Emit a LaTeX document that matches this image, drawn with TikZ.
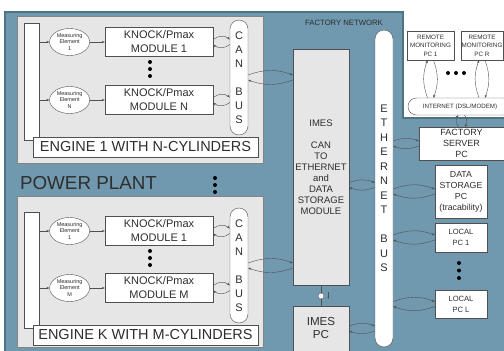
\documentclass[tikz,border=0pt]{standalone}
\usepackage{fontspec}
\setmainfont{Liberation Sans}
\usepackage{xcolor}
\usepackage{tikz}
\usetikzlibrary{positioning, arrows.meta, shapes.geometric, calc}

\definecolor{netblue}{HTML}{7098AE}
\definecolor{netedge}{HTML}{4E7384}
\definecolor{panelgray}{HTML}{E6E6E6}
\definecolor{boxline}{HTML}{505050}
\definecolor{inkgray}{HTML}{2E2E2E}

\begin{document}
\begin{tikzpicture}[
    x=1pt, y=-1pt,
    every node/.style={text=inkgray},
    engine/.style={draw=boxline!70, fill=panelgray, minimum width=246pt, inner sep=0pt},
    whitebox/.style={draw=boxline, fill=white, inner sep=0pt},
    sensor/.style={ellipse, draw=boxline, fill=white, minimum width=40pt, minimum height=27pt, inner sep=0pt, align=center, font=\fontsize{5.5}{6.5}\selectfont},
    module/.style={whitebox, minimum width=108pt, minimum height=29pt, align=center, font=\fontsize{11}{14}\selectfont},
    bus/.style={whitebox, rounded corners=9pt, minimum width=18pt, align=center},
    pcbox/.style={whitebox, align=center},
    arrow/.style={-{Stealth[length=3pt]}, thin, draw=boxline},
    link/.style={-{Stealth[length=3pt]}, thin, draw=boxline}
]

\useasboundingbox (0,0) rectangle (504,351);

% factory network
\fill[netblue] (5,12) -- (403,12) -- (403,118) -- (504,118) -- (504,351) -- (5,351) -- cycle;
\draw[netedge, line width=1.2pt] (504,118) -- (403,118) -- (403,12) -- (5,12) -- (5,351);
\node[font=\fontsize{7.7}{9}\selectfont] (fnet) at (344,23) {FACTORY NETWORK};

% engine 1
\node[engine, minimum height=147pt] (eng1) at (140,89.5) {};
\node[whitebox, minimum width=15pt, minimum height=117pt] (bar1) at (31.5,81.5) {};
\node[whitebox, minimum width=225pt, minimum height=20pt, font=\fontsize{14.5}{16}\selectfont] (lab1) at (145.5,147) {ENGINE 1 WITH N-CYLINDERS};
\node[module] (mod11) at (159,42) {KNOCK/Pmax\\MODULE 1};
\node[module] (mod1n) at (159,100) {KNOCK/Pmax\\MODULE N};
\node[sensor, left=15pt of mod11] (sen11) {Measuring\\Element\\1};
\node[sensor, left=15pt of mod1n] (sen1n) {Measuring\\Element\\N};
\node[bus, minimum height=115pt, font=\fontsize{11}{14}\selectfont] (can1) at (239,77.5) {C\\A\\N\\[14pt]B\\U\\S};
\fill[black] (150,62) circle (2) (150,69) circle (2) (150,76) circle (2);

\draw[arrow] (bar1.east |- sen11.west) -- (sen11.west);
\draw[arrow] (bar1.east |- sen1n.west) -- (sen1n.west);
\draw[arrow] (sen11) -- (mod11);
\draw[arrow] (sen1n) -- (mod1n);
\draw[link] ([yshift=2.5pt]mod11.east) to[bend left=40] ([yshift=2.5pt]mod11.east -| can1.west);
\draw[link] ([yshift=-2.5pt]mod11.east -| can1.west) to[bend left=40] ([yshift=-2.5pt]mod11.east);
\draw[link] ([yshift=2.5pt]mod1n.east) to[bend left=40] ([yshift=2.5pt]mod1n.east -| can1.west);
\draw[link] ([yshift=-2.5pt]mod1n.east -| can1.west) to[bend left=40] ([yshift=-2.5pt]mod1n.east);

% power plant
\node[font=\fontsize{18.8}{20}\selectfont] (plant) at (88.5,183) {POWER PLANT};
\fill[black] (215,178) circle (2) (215,185) circle (2) (215,192) circle (2);

% engine K
\node[engine, minimum height=151pt] (engk) at (140,271.5) {};
\node[whitebox, minimum width=15pt, minimum height=116pt] (bark) at (31.5,270) {};
\node[whitebox, minimum width=225pt, minimum height=20pt, font=\fontsize{14.5}{16}\selectfont] (labk) at (145.5,335) {ENGINE K WITH M-CYLINDERS};
\node[module] (modk1) at (159,231) {KNOCK/Pmax\\MODULE 1};
\node[module] (modkm) at (159,288) {KNOCK/Pmax\\MODULE M};
\node[sensor, left=15pt of modk1] (senk1) {Measuring\\Element\\1};
\node[sensor, left=15pt of modkm] (senkm) {Measuring\\Element\\M};
\node[bus, minimum height=115pt, font=\fontsize{11}{14}\selectfont] (cank) at (239,265.5) {C\\A\\N\\[14pt]B\\U\\S};
\fill[black] (150,251) circle (2) (150,258) circle (2) (150,265) circle (2);

\draw[arrow] (bark.east |- senk1.west) -- (senk1.west);
\draw[arrow] (bark.east |- senkm.west) -- (senkm.west);
\draw[arrow] (senk1) -- (modk1);
\draw[arrow] (senkm) -- (modkm);
\draw[link] ([yshift=2.5pt]modk1.east) to[bend left=40] ([yshift=2.5pt]modk1.east -| cank.west);
\draw[link] ([yshift=-2.5pt]modk1.east -| cank.west) to[bend left=40] ([yshift=-2.5pt]modk1.east);
\draw[link] ([yshift=2.5pt]modkm.east) to[bend left=40] ([yshift=2.5pt]modkm.east -| cank.west);
\draw[link] ([yshift=-2.5pt]modkm.east -| cank.west) to[bend left=40] ([yshift=-2.5pt]modkm.east);

% imes
\node[whitebox, fill=panelgray, minimum width=56pt, minimum height=236pt, align=center, font=\fontsize{9.5}{11}\selectfont] (imes) at (321,167)
    {IMES\\[11pt]CAN\\TO\\ETHERNET\\and\\DATA\\STORAGE\\MODULE};
\node[whitebox, fill=panelgray, minimum width=56pt, minimum height=45pt, align=center, font=\fontsize{11.6}{13}\selectfont] (imespc) at (321,328.5) {IMES\\PC};
\node[circle, draw=boxline, fill=white, minimum size=6pt, inner sep=0pt] (plug) at (321,296) {};
\draw[boxline] (imes.south) -- (plug.north);
\draw[boxline] (plug.south) -- (imespc.north);
\draw[-{Stealth[length=2pt]}, boxline, very thin] ($(plug.east)+(4,-4)$) -- ($(plug.east)+(4,3)$);

\draw[link] ([yshift=2.5pt]can1.east) to[bend left=20] ([yshift=2.5pt]can1.east -| imes.west);
\draw[link] ([yshift=-2.5pt]can1.east -| imes.west) to[bend left=20] ([yshift=-2.5pt]can1.east);
\draw[link] ([yshift=2.5pt]cank.east) to[bend left=20] ([yshift=2.5pt]cank.east -| imes.west);
\draw[link] ([yshift=-2.5pt]cank.east -| imes.west) to[bend left=20] ([yshift=-2.5pt]cank.east);

% ethernet bus
\node[bus, minimum height=317pt, font=\fontsize{11}{14.5}\selectfont] (eth) at (384,188.5) {E\\T\\H\\E\\R\\N\\E\\T\\[14.5pt]B\\U\\S};

% remote side
\node[pcbox, minimum width=47pt, minimum height=29pt, font=\fontsize{6.3}{8.5}\selectfont] (rpc1) at (430.5,45.5) {REMOTE\\MONITORING\\PC 1};
\node[pcbox, minimum width=42pt, minimum height=29pt, font=\fontsize{6.3}{8.5}\selectfont] (rpcr) at (482,45.5) {REMOTE\\MONITORING\\PC R};
\fill[black] (448,73) circle (2) (456,73) circle (2) (464,73) circle (2);
\node[whitebox, rounded corners=8.5pt, minimum width=104pt, minimum height=17pt, font=\fontsize{6.2}{8}\selectfont] (inet) at (460,106.5) {INTERNET (DSL/MODEM)};
\node[pcbox, minimum width=85pt, minimum height=33pt, font=\fontsize{9}{11}\selectfont] (fsrv) at (461.5,143.5) {FACTORY\\SERVER\\PC};
\node[pcbox, minimum width=52pt, minimum height=53pt, font=\fontsize{8.8}{11}\selectfont] (dsto) at (461,191.5) {DATA\\STORAGE\\PC\\(tracability)};
\node[pcbox, minimum width=52pt, minimum height=29pt, font=\fontsize{7.6}{11}\selectfont] (lpc1) at (461,237.5) {LOCAL\\PC 1};
\node[pcbox, minimum width=52pt, minimum height=28pt, font=\fontsize{7.6}{11}\selectfont] (lpcl) at (461,304) {LOCAL\\PC L};
\fill[black] (459,263) circle (2) (459,270.5) circle (2) (459,278) circle (2);

\draw[link] ([xshift=-3pt]rpc1.south |- inet.north) to[bend left=20] ([xshift=-3pt]rpc1.south);
\draw[link] ([xshift=3pt]rpc1.south) to[bend left=20] ([xshift=3pt]rpc1.south |- inet.north);
\draw[link] ([xshift=-3pt]rpcr.south |- inet.north) to[bend left=20] ([xshift=-3pt]rpcr.south);
\draw[link] ([xshift=3pt]rpcr.south) to[bend left=20] ([xshift=3pt]rpcr.south |- inet.north);
\draw[link] ([xshift=-3pt]fsrv.north) to[bend left=40] ([xshift=-3pt]fsrv.north |- inet.south);
\draw[link] ([xshift=3pt]fsrv.north |- inet.south) to[bend left=40] ([xshift=3pt]fsrv.north);

% ethernet links
\draw[link] ([yshift=-15.5pt]imes.east) to[bend left=20] ([yshift=-15.5pt]imes.east -| eth.west);
\draw[link] ([yshift=-20.5pt]imes.east -| eth.west) to[bend left=20] ([yshift=-20.5pt]imes.east);
\draw[link] ([yshift=2.5pt]imespc.east) to[bend left=20] ([yshift=2.5pt]imespc.east -| eth.west);
\draw[link] ([yshift=-2.5pt]imespc.east -| eth.west) to[bend left=20] ([yshift=-2.5pt]imespc.east);
\draw[link] ([yshift=2.5pt]fsrv.west -| eth.east) to[bend left=20] ([yshift=2.5pt]fsrv.west);
\draw[link] ([yshift=-2.5pt]fsrv.west) to[bend left=20] ([yshift=-2.5pt]fsrv.west -| eth.east);
\draw[link] ([yshift=2.5pt]dsto.west -| eth.east) to[bend left=20] ([yshift=2.5pt]dsto.west);
\draw[link] ([yshift=-2.5pt]dsto.west) to[bend left=20] ([yshift=-2.5pt]dsto.west -| eth.east);
\draw[link] ([yshift=2.5pt]lpc1.west -| eth.east) to[bend left=20] ([yshift=2.5pt]lpc1.west);
\draw[link] ([yshift=-2.5pt]lpc1.west) to[bend left=20] ([yshift=-2.5pt]lpc1.west -| eth.east);
\draw[link] ([yshift=2.5pt]lpcl.west -| eth.east) to[bend left=20] ([yshift=2.5pt]lpcl.west);
\draw[link] ([yshift=-2.5pt]lpcl.west) to[bend left=20] ([yshift=-2.5pt]lpcl.west -| eth.east);

\end{tikzpicture}
\end{document}
